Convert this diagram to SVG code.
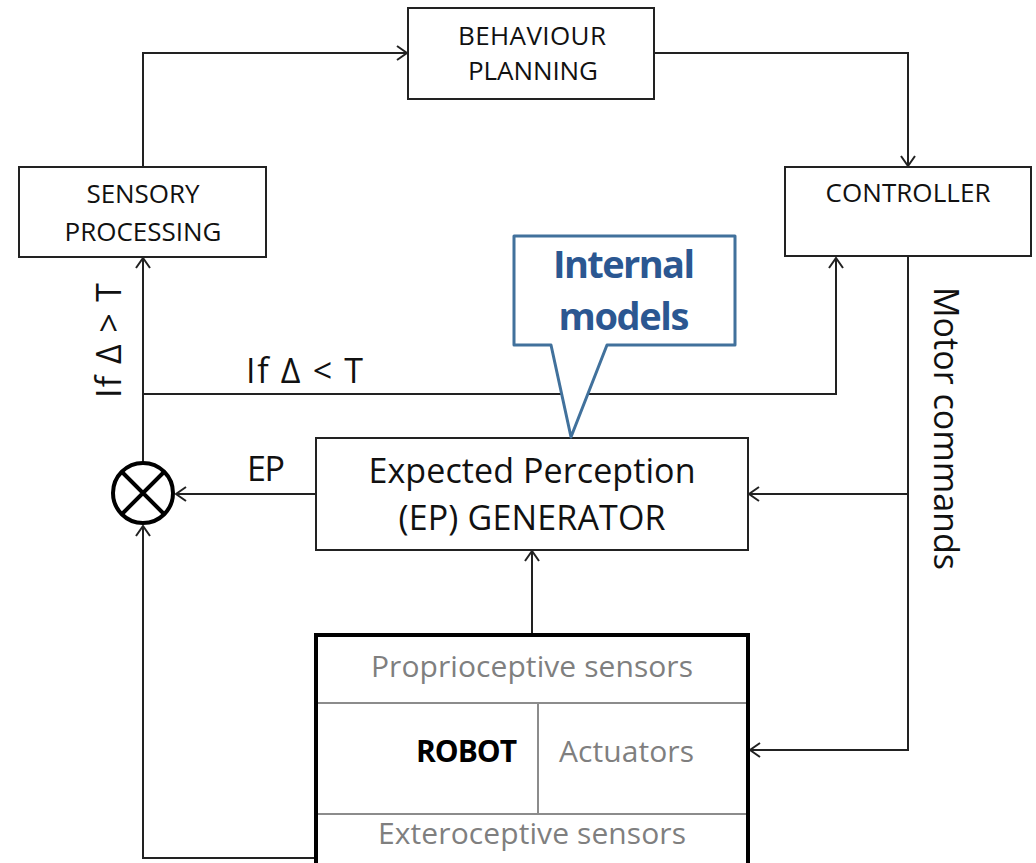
<svg xmlns="http://www.w3.org/2000/svg" width="1036" height="863" viewBox="0 0 1036 863">
<style>
.box{fill:#fff;stroke:#222;stroke-width:2}
.t{font-family:"Open Sans","Liberation Sans",sans-serif;fill:#111}
.s{font-size:26px}
.m{font-size:34px}
.g{font-size:30px;fill:#7f7f7f}
.b{font-weight:bold}
.c{fill:none;stroke:#222;stroke-width:2}
.div{stroke:#8c8c8c;stroke-width:2;fill:none}
</style>
<defs>
<marker id="ah" viewBox="0 0 12 16" refX="11" refY="8" markerWidth="12" markerHeight="16" markerUnits="userSpaceOnUse" orient="auto">
<path d="M1,1 L11,8 L1,15" fill="none" stroke="#222" stroke-width="2"/>
</marker>
</defs>
<rect width="1036" height="863" fill="#fff"/>

<g id="connectors">
<path class="c" d="M143,167 V53 H407" marker-end="url(#ah)"/>
<path class="c" d="M654,53 H908 V166" marker-end="url(#ah)"/>
<path class="c" d="M908,256 V750 H750" marker-end="url(#ah)"/>
<path class="c" d="M908,494 H749" marker-end="url(#ah)"/>
<path class="c" d="M143,463 V258" marker-end="url(#ah)"/>
<path class="c" d="M143,394 H836 V258" marker-end="url(#ah)"/>
<path class="c" d="M316,494 H176" marker-end="url(#ah)"/>
<path class="c" d="M532,635 V551" marker-end="url(#ah)"/>
<path class="c" d="M316,858 H143 V526" marker-end="url(#ah)"/>
<text class="t m" x="246" y="383" textLength="117">If  Δ &lt; T</text>
<text class="t m" x="247" y="481" textLength="38">EP</text>
<text class="t m" transform="translate(121,398) rotate(-90)" x="0" y="0" textLength="115">If  Δ &gt; T</text>
<text class="t m" transform="translate(934,287) rotate(90)" x="0" y="0" textLength="283">Motor commands</text>
</g>

<g id="behaviour-planning">
<rect class="box" x="408" y="8" width="246" height="91"/>
<text class="t s" x="532" y="45" text-anchor="middle" textLength="148">BEHAVIOUR</text>
<text class="t s" x="533" y="80" text-anchor="middle" textLength="130">PLANNING</text>
</g>

<g id="sensory-processing">
<rect class="box" x="19" y="167" width="247" height="90"/>
<text class="t s" x="143" y="203" text-anchor="middle" textLength="113">SENSORY</text>
<text class="t s" x="143" y="241" text-anchor="middle" textLength="157">PROCESSING</text>
</g>

<g id="controller">
<rect class="box" x="785" y="167" width="246" height="89"/>
<text class="t s" x="908" y="202" text-anchor="middle" textLength="165">CONTROLLER</text>
</g>

<g id="ep-generator">
<rect class="box" x="316" y="438" width="432" height="112"/>
<text class="t m" x="532" y="483" text-anchor="middle" textLength="327">Expected Perception</text>
<text class="t m" x="532" y="530" text-anchor="middle" textLength="267">(EP) GENERATOR</text>
</g>

<g id="internal-models">
<path d="M514,236 H735 V345 H607 L571,437 L551,345 H514 Z" fill="#fff" stroke="#41719c" stroke-width="3" stroke-linejoin="round"/>
<text class="t b" x="624" y="278" text-anchor="middle" font-size="38" fill="#2b5791" style="fill:#2b5791" textLength="142">Internal</text>
<text class="t b" x="624" y="330" text-anchor="middle" font-size="38" style="fill:#2b5791" textLength="131">models</text>
</g>

<g id="junction">
<circle cx="143" cy="493" r="30" fill="#fff" stroke="#000" stroke-width="4"/>
<path d="M122,472 L164,514 M164,472 L122,514" stroke="#000" stroke-width="4"/>
</g>

<g id="robot">
<rect x="316" y="635" width="432" height="240" fill="#fff" stroke="#000" stroke-width="4"/>
<path class="div" d="M318,703 H746 M318,814 H746 M538,703 V814"/>
<text class="t g" x="532" y="677" text-anchor="middle" textLength="322">Proprioceptive sensors</text>
<text class="t b" x="416" y="762" font-size="30" style="fill:#000" textLength="101">ROBOT</text>
<text class="t g" x="559" y="762" textLength="135">Actuators</text>
<text class="t g" x="532" y="844" text-anchor="middle" textLength="308">Exteroceptive sensors</text>
</g>
</svg>
